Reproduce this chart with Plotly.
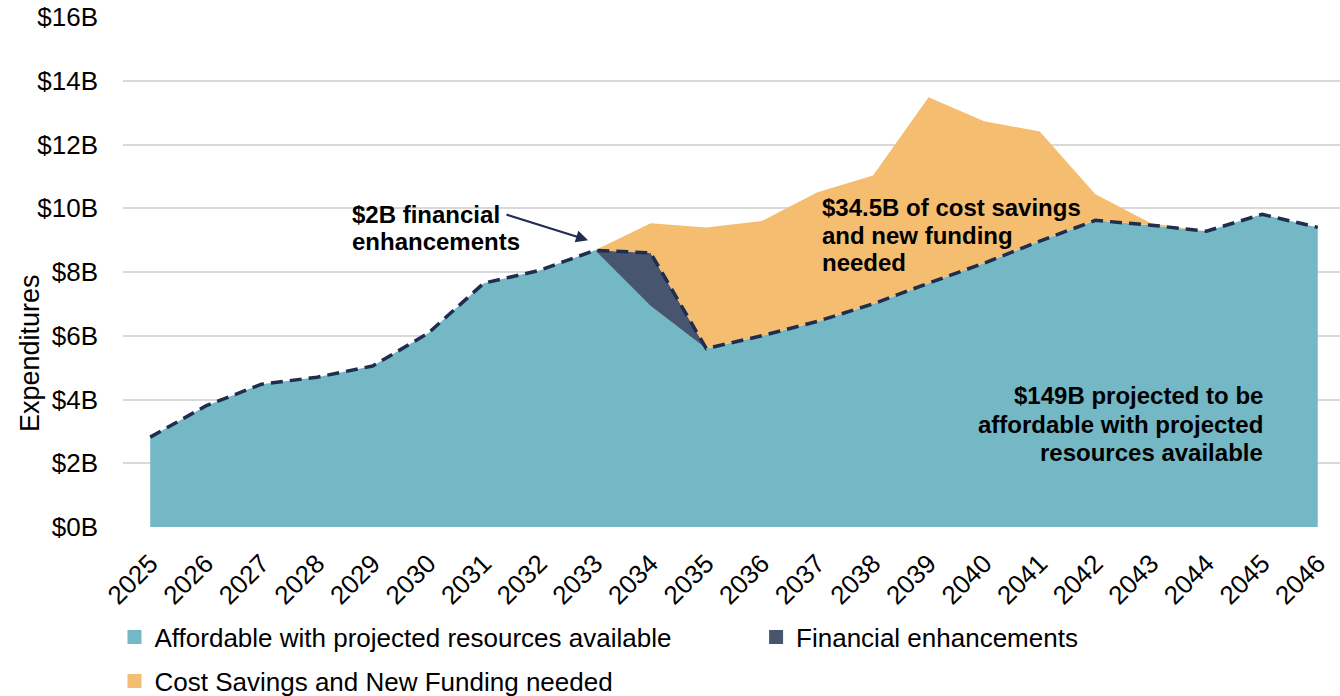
import plotly.graph_objects as go

# Years on the x axis
years = list(range(2025, 2047))

# Affordable with projected resources available ($B)
affordable = [2.82, 3.80, 4.48, 4.70, 5.05, 6.08, 7.65, 8.05, 8.68, 6.93, 5.60,
              6.00, 6.45, 7.00, 7.65, 8.28, 8.97, 9.62, 9.47, 9.28, 9.81, 9.40]

# Financial enhancements ($B), stacked on top of affordable
enhancements = [0, 0, 0, 0, 0, 0, 0, 0, 0, 1.67, 0,
                0, 0, 0, 0, 0, 0, 0, 0, 0, 0, 0]

# Cost savings and new funding needed ($B), stacked on top
cost_savings = [0, 0, 0, 0, 0, 0, 0, 0, 0, 0.93, 3.80,
                3.60, 4.05, 4.03, 5.83, 4.45, 3.44, 0.82, 0.06, 0, 0, 0]

y_ticks = [0, 2, 4, 6, 8, 10, 12, 14, 16]
y_tick_labels = ["$" + str(v) + "B" for v in y_ticks]

teal = "#74B8C5"
navy = "#48556F"
orange = "#F5BD70"
line_col = "#1F2D4E"

# running totals for stacking
lvl1 = affordable
lvl2 = [a + b for a, b in zip(lvl1, enhancements)]
lvl3 = [a + b for a, b in zip(lvl2, cost_savings)]

fig = go.Figure()

fig.add_trace(go.Scatter(x=years, y=lvl1, fill="tozeroy", mode="none",
                         fillcolor=teal, showlegend=False, hoverinfo="skip"))
fig.add_trace(go.Scatter(x=years, y=lvl2, fill="tonexty", mode="none",
                         fillcolor=navy, showlegend=False, hoverinfo="skip"))
fig.add_trace(go.Scatter(x=years, y=lvl3, fill="tonexty", mode="none",
                         fillcolor=orange, showlegend=False, hoverinfo="skip"))

# dashed line on top of affordable + enhancements
fig.add_trace(go.Scatter(x=years, y=lvl2, mode="lines",
                         line=dict(color=line_col, width=3.5, dash="12px,7px"),
                         showlegend=False))

# legend entries as squares, one legend each so they can be placed freely
legend_items = [
    ("Affordable with projected resources available", teal, "legend"),
    ("Financial enhancements", navy, "legend2"),
    ("Cost Savings and New Funding needed", orange, "legend3"),
]
for name, col, lg in legend_items:
    fig.add_trace(go.Scatter(x=[None], y=[None], mode="markers", name=name,
                             marker=dict(symbol="square", size=14, color=col),
                             legend=lg))

font_main = "Arial, Liberation Sans, sans-serif"

# callout text, one annotation per line
notes = [
    # (lines, x, first line y, step, anchor)
    (["$2B financial", "enhancements"], 2028.6, 9.79, 0.82, "left"),
    (["$34.5B of cost savings", "and new funding", "needed"], 2037.05, 10.01, 0.86, "left"),
    (["$149B projected to be", "affordable with projected", "resources available"],
     2045.05, 4.11, 0.88, "right"),
]
for lines, nx, ny, step, anchor in notes:
    for i, txt in enumerate(lines):
        fig.add_annotation(x=nx, y=ny - i * step, xref="x", yref="y",
                           text="<b>" + txt + "</b>", showarrow=False,
                           xanchor=anchor, yanchor="middle",
                           font=dict(size=24, color="black"))

fig.add_annotation(x=2032.875, y=9.0, xref="x", yref="y", text="",
                   showarrow=True, arrowhead=2, arrowsize=1.1, arrowwidth=2.2,
                   arrowcolor=line_col, ax=-83, ay=-26)

# y axis title
fig.add_annotation(x=-0.0764, y=0.341, xref="paper", yref="paper",
                   text="Expenditures", textangle=-90, showarrow=False,
                   xanchor="center", yanchor="middle",
                   font=dict(size=27, color="black"))

leg_common = dict(orientation="h", xanchor="left", yanchor="middle",
                  font=dict(size=26), bgcolor="rgba(0,0,0,0)")

fig.update_layout(
    width=1340, height=696,
    margin=dict(l=123, r=0, t=17, b=169, autoexpand=False),
    plot_bgcolor="white", paper_bgcolor="white",
    font=dict(family=font_main, size=26, color="black"),
    legend=dict(x=-0.007, y=-0.2157, **leg_common),
    legend2=dict(x=0.5202, y=-0.2157, **leg_common),
    legend3=dict(x=-0.007, y=-0.302, **leg_common),
)

fig.update_xaxes(range=[2024.51, 2046.4], tickmode="array", tickvals=years,
                 ticktext=[str(y) for y in years], tickangle=-45,
                 showgrid=False, zeroline=False, showline=False,
                 tickfont=dict(size=26), automargin=False,
                 ticklabelstandoff=15)
fig.update_yaxes(range=[0, 16], tickmode="array", tickvals=y_ticks,
                 ticktext=y_tick_labels, showgrid=True, gridcolor="#D9D9D9",
                 gridwidth=1.5, zeroline=False, ticks="", ticklen=0,
                 tickfont=dict(size=26), automargin=False,
                 ticklabelstandoff=24, ticklabeloverflow="allow")

# drop the default 8px page margin so the top tick label isn't clipped
fig.write_html("out.html", config={"displayModeBar": False},
               post_script="document.body.style.margin='0px';")
